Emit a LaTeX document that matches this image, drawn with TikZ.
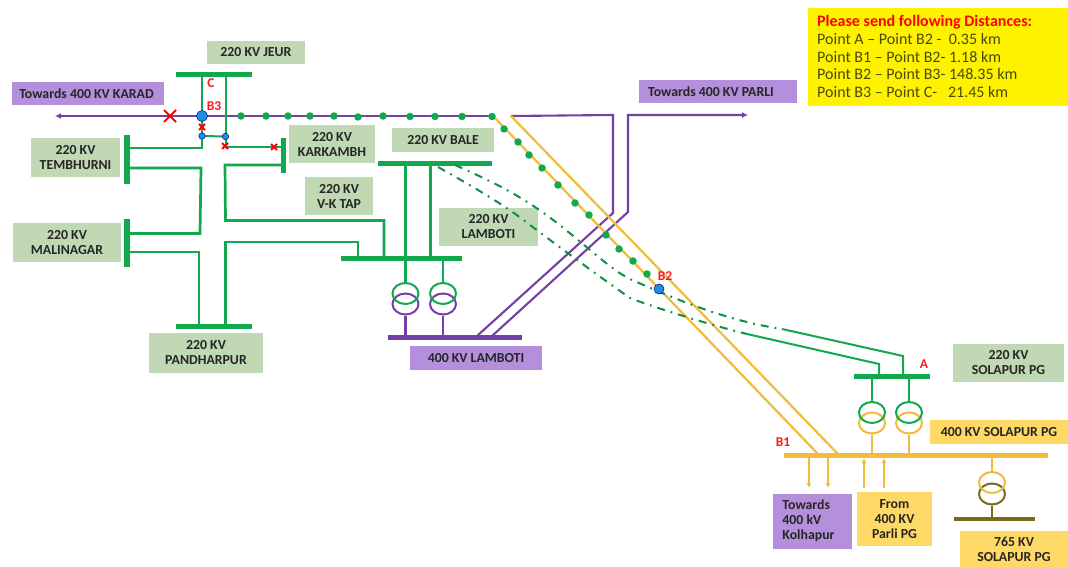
\documentclass[tikz,border=0pt]{standalone}
\usepackage{fontspec}
\setmainfont{Carlito}
\usetikzlibrary{arrows.meta,calc,shapes.geometric,shapes.misc}
\definecolor{gbox}{HTML}{C0D8B4}
\definecolor{pbox}{HTML}{B48FDC}
\definecolor{ybox}{HTML}{FFD966}
\definecolor{gline}{HTML}{12A84E}
\definecolor{pline}{HTML}{7440A8}
\definecolor{yline}{HTML}{F2BC3A}
\definecolor{bline}{HTML}{7A6A20}
\definecolor{bdot}{HTML}{1E90E0}
\definecolor{lbl}{HTML}{262626}
\definecolor{info}{HTML}{4A4A08}
\tikzset{
 x=1pt,y=-1pt,
 lab/.style={font=\fontsize{13.8}{15}\selectfont\bfseries,text=lbl,align=center,inner sep=0pt,anchor=center},
 gl/.style={draw=gline,line width=2.7pt},
 gt/.style={draw=gline,line width=2pt},
 pl/.style={draw=pline,line width=2.1pt},
 yl/.style={draw=yline,line width=2.2pt},
 dd/.style={draw=gline!85!black,line width=2pt,dash pattern=on 8pt off 6pt on 1.8pt off 6pt},
 gdot/.style={circle,fill=gline,inner sep=0pt,minimum size=7.5pt},
 bd/.style={circle,fill=bdot,draw=blue!60!black,line width=.5pt,inner sep=0pt},
 redl/.style={text=red!90!white,font=\fontsize{13.5}{14}\selectfont\bfseries,inner sep=0pt},
 xm/.style={cross out,draw=red,inner sep=0pt,outer sep=0pt},
}
\newcommand{\boxnode}[7]{% name, color, x1,y1,x2,y2, text
 \fill[#2] (#3,#4) rectangle (#5,#6);
 \node[lab] (#1) at ({(#3+#5)/2},{(#4+#6)/2}) {#7};}
\newcommand{\busnode}[6]{% name, color, x1,y1,x2,y2
 \fill[#2] (#3,#4) rectangle (#5,#6);
 \coordinate (#1) at ({(#3+#5)/2},{(#4+#6)/2});}
\newcommand{\tfnode}[6]{% name, x, y-up, y-low, col-up, col-low
 \node[draw=#6,line width=2pt,ellipse,minimum width=26pt,minimum height=21pt,inner sep=0pt] (#1l) at (#2,#4) {};
 \node[draw=#5,line width=2pt,ellipse,minimum width=26pt,minimum height=21pt,inner sep=0pt] (#1u) at (#2,#3) {};}
\begin{document}
\begin{tikzpicture}
\useasboundingbox (0,0) rectangle (1068,567);
\fill[white] (0,0) rectangle (1068,567);

% label boxes
\boxnode{tjeur}{gbox}{207}{41}{305}{64}{220 KV JEUR}
\boxnode{tkarad}{pbox}{12}{82}{164}{105}{\hspace*{-3pt}Towards 400 KV KARAD}
\boxnode{ttemb}{gbox}{31}{138}{120}{177}{220 KV\\TEMBHURNI}
\boxnode{tkark}{gbox}{289}{125}{375}{163}{220 KV\\KARKAMBH}
\boxnode{tvk}{gbox}{305}{177}{373}{215}{220 KV\\V-K TAP}
\boxnode{tbale}{gbox}{392}{128}{494}{152}{220 KV BALE}
\boxnode{tlamb}{gbox}{439}{208}{538}{246}{220 KV\\LAMBOTI}
\boxnode{tmali}{gbox}{13}{223}{121}{262}{220 KV\\MALINAGAR}
\boxnode{tpand}{gbox}{149}{333}{263}{373}{220 KV\\PANDHARPUR}
\boxnode{tl400}{pbox}{410}{346}{542}{370}{400 KV LAMBOTI}
\boxnode{tparli}{pbox}{639}{80}{797}{103}{\hspace*{-14pt}Towards 400 KV PARLI}
\boxnode{tsol}{gbox}{953}{344}{1064}{382}{220 KV\\SOLAPUR PG}
\boxnode{tsol4}{ybox}{930}{420}{1068}{444}{400 KV SOLAPUR PG}
\boxnode{tkol}{pbox}{773}{494}{852}{549}{\hspace*{-8pt}\begin{tabular}{@{}l@{}}Towards\\400 kV\\Kolhapur\end{tabular}}
\boxnode{tfrom}{ybox}{857}{492}{932}{546}{From\\400 KV\\Parli PG}
\boxnode{t765}{ybox}{960}{531}{1068}{567}{765 KV\\SOLAPUR PG}

% info box
\fill[yellow] (808,8) rectangle (1068,106);
\node[inner sep=0pt,anchor=north west,align=left,font=\fontsize{16}{17.8}\selectfont,text=info] (infotext) at (817,15)
 {{\color{red}\bfseries Please send following Distances:}\\
  Point A -- Point B2 -\ \ 0.35 km\\
  Point B1 -- Point B2- 1.18 km\\
  Point B2 -- Point B3- 148.35 km\\
  Point B3 -- Point C-\ \ \ 21.45 km};

% key points
\coordinate (b3) at (202,116);
\coordinate (b2) at (659,289);
\coordinate (jl) at (202,136);
\coordinate (jr) at (225.5,136.5);
\coordinate (kj) at (225.5,147);
\coordinate (parlijog) at (511,116);
\coordinate (endline) at (493,116);
\coordinate (karadend) at (55,116);
\coordinate (parliend) at (748,115);

% buses
\busnode{bjeur}{gline}{176}{72.5}{252}{77.5}
\busnode{btemb}{gline}{124}{135}{130}{184}
\busnode{bmali}{gline}{124}{219}{130}{267}
\busnode{bpand}{gline}{176}{323.5}{252}{328.5}
\busnode{bkark}{gline}{280.5}{138}{285.5}{173}
\busnode{bbale}{gline}{378}{160.5}{492}{165.5}
\busnode{blamb}{gline}{341}{255.5}{462}{260.5}
\busnode{bl400}{pline}{388}{334.5}{522}{339.5}
\busnode{bsa}{gline}{854}{373.5}{930}{378.5}
\busnode{bb1}{yline}{784}{452.5}{1048}{457.5}
\busnode{b765}{bline}{954}{517}{1035}{521}

% main purple line
\draw[pl,-{Latex[length=6pt,width=6pt]}] (endline) -- (karadend);

% Jeur feeders
\draw[gt] (b3 |- bjeur) -- (b3) -- (jl);
\draw[gt] (jr |- bjeur) -- (jr) -- (kj) -- (bkark |- kj);
\draw[gt] (jl) -- (jr);

% Tembhurni / Malinagar / Pandharpur
\coordinate (tu) at (127,148);
\coordinate (tl) at (127,168);
\coordinate (mu) at (127,233.5);
\coordinate (ml) at (127,252);
\draw[gl] (tu) -| (jl);
\draw[gl] (tl) -- (201,168) -- (200,233.5) -- (mu);
\draw[gl] (ml) -- (199,252) -- (199,326);
\coordinate (vk1) at (225,165);
\coordinate (vk2) at (225.5,220.5);
\coordinate (vk3) at (384,220.5);
\draw[gl] (bkark |- vk1) -- (vk1) -- (vk2) -- (vk3) -- (vk3 |- blamb);
\coordinate (pd1) at (225.5,242);
\coordinate (pd2) at (358,242);
\draw[gl] (pd1 |- bpand) -- (pd1) -- (pd2) -- (pd2 |- blamb);

% Bale bus drops
\coordinate (tf1) at (405.5,283);
\coordinate (tf2) at (443,283);
\coordinate (bd2) at (430,163);
\draw[gl,line width=3pt] (tf1 |- bbale) -- (tf1);
\draw[gl,line width=3pt] (bd2) -- (bd2 |- blamb);
\draw[gt] (tf2 |- blamb) -- (tf2);

% Lamboti transformers
\tfnode{ta}{405.5}{293.5}{304}{gline}{pline}
\tfnode{tb}{443}{293.5}{304}{gline}{pline}
\draw[pl] (tal.south) -- (tal.south |- bl400);
\draw[pl] (tbl.south) -- (tbl.south |- bl400);

% Purple double line
\coordinate (pa0) at (477,336);
\coordinate (pa1) at (613,213);
\coordinate (pa2) at (613,115);
\coordinate (pb0) at (492,336);
\coordinate (pb1) at (628,212);
\coordinate (pb2) at (628,115);
\draw[pl] (pa0) -- (pa1) -- (pa2) -- (parlijog);
\draw[pl,-{Latex[length=6pt,width=6pt]}] (pb0) -- (pb1) -- (pb2) -- (parliend);

% Yellow double line
\coordinate (y1) at (818,454);
\coordinate (y2) at (838,454);
\draw[yl] (endline) -- (y1);
\draw[yl] (parlijog) -- (y2);

% Dash-dot circuits
\coordinate (af1) at (747,334);
\coordinate (af2) at (782,329);
\coordinate (bb1o) at (455,165);
\coordinate (bb2o) at (438,167);
\draw[dd] (bb1o) .. controls (500,185) and (530,200) .. (572,235) .. controls (600,258) and (615,272) .. (632,280) .. controls (660,292) and (720,320) .. (af2);
\draw[dd] (bb2o) .. controls (470,185) and (505,205) .. (530,225) .. controls (550,240) and (590,270) .. (630,298) .. controls (650,306) and (710,325) .. (af1);
\coordinate (af1b) at (879,364);
\coordinate (af2b) at (903,356);
\draw[gt] (af1) -- (af1b) -- (af1b |- bsa);
\draw[gt] (af2) -- (af2b) -- (af2b |- bsa);

% Green dots
\foreach \n/\x/\y in {1/241/116,2/266/116,3/288/116,4/310/116,5/334/116,6/358/117,7/383/116,8/410/116.5,9/435/116.5,10/462/116.5,11/492/116.5,12/504/129,13/518/142,14/529/155,15/542/168,16/558/185,17/575/203,18/589/215,19/606/235,20/619/249,21/633/261,22/647/274}
 \node[gdot] (d\n) at (\x,\y) {};

% Solapur transformers
\tfnode{tc}{872}{412.5}{423}{gline}{yline}
\tfnode{td}{909}{412.5}{423}{gline}{yline}
\draw[gt] (tcu.north |- bsa) -- (tcu.north);
\draw[gt] (tdu.north |- bsa) -- (tdu.north);
\draw[yl] (tcl.south) -- (tcl.south |- bb1);
\draw[yl] (tdl.south) -- (tdl.south |- bb1);

% 765 transformer
\tfnode{te}{992}{482.5}{494}{yline}{bline}
\draw[yl] (teu.north |- bb1) -- (teu.north);
\draw[draw=bline,line width=2pt] (tel.south) -- (tel.south |- b765);

% arrows at B1
\coordinate (a1) at (809,488);
\coordinate (a2) at (828,488);
\coordinate (a3) at (864,488);
\coordinate (a4) at (884,488);
\coordinate (a3e) at (864,458);
\coordinate (a4e) at (884,458);
\draw[yl,-{Latex[length=5pt,width=5pt]}] (a1 |- bb1) -- (a1);
\draw[yl,-{Latex[length=5pt,width=5pt]}] (a2 |- bb1) -- (a2);
\draw[yl,-{Latex[length=5pt,width=5pt]}] (a3) -- (a3e);
\draw[yl,-{Latex[length=5pt,width=5pt]}] (a4) -- (a4e);

% blue points
\node[bd,minimum size=11pt] (pb3) at (b3) {};
\node[bd,minimum size=10pt] (pb2pt) at (b2) {};
\node[bd,minimum size=6.5pt] (pjl) at (jl) {};
\node[bd,minimum size=6.5pt] (pjr) at (jr) {};

% red crosses
\node[xm,line width=2pt,minimum size=12pt] (x1) at (170,116) {};
\node[xm,line width=2pt,minimum size=6pt] (x2) at (202,127) {};
\node[xm,line width=2pt,minimum size=6pt] (x3) at (225,146) {};
\node[xm,line width=2pt,minimum size=6pt] (x4) at (274,147) {};

% red labels
\node[redl] (lc) at (211,83) {C};
\node[redl] (lb3) at (214,106) {B3};
\node[redl] (lb2) at (665,276) {B2};
\node[redl] (lb1) at (783,442) {B1};
\node[redl] (la) at (924,364) {A};
\end{tikzpicture}
\end{document}
